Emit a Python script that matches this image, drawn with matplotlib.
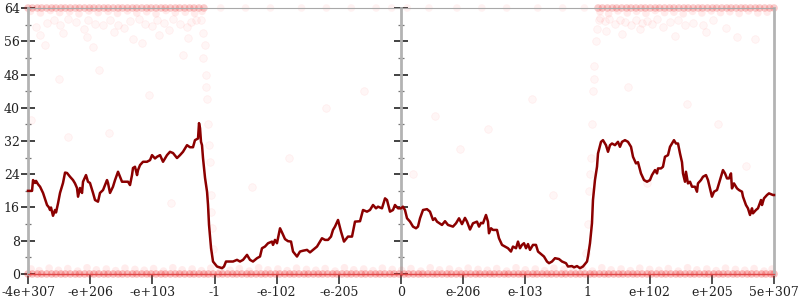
import matplotlib
matplotlib.use("Agg")
import matplotlib.pyplot as plt
from matplotlib.ticker import MultipleLocator, FixedLocator

# ---------------- data ----------------
# x axis is the ordered float space; tick positions are evenly spaced
x_tick_pos = [-6, -5, -4, -3, -2, -1, 0, 1, 2, 3, 4, 5, 6]
x_tick_labels = ["-4e+307", "-e+206", "-e+103", "-1", "-e-102", "-e-205", "0",
                 "e-206", "e-103", "1", "e+102", "e+205", "5e+307"]
y_ticks = [0, 8, 16, 24, 32, 40, 48, 56, 64]

line_x = [-6.0, -5.935, -5.919, -5.887, -5.871, -5.839, -5.806, -5.758, -5.710, -5.694,
          -5.662, -5.646, -5.630, -5.598, -5.565, -5.549, -5.517, -5.485, -5.437, -5.404,
          -5.372, -5.324, -5.276, -5.244, -5.212, -5.195, -5.163, -5.131, -5.115, -5.067,
          -5.035, -5.003, -4.954, -4.922, -4.874, -4.842, -4.793, -4.729, -4.713, -4.681,
          -4.633, -4.600, -4.552, -4.520, -4.488, -4.440, -4.391, -4.359, -4.327, -4.311,
          -4.279, -4.246, -4.230, -4.198, -4.150, -4.086, -4.037, -4.005, -3.957, -3.925,
          -3.876, -3.828, -3.764, -3.716, -3.667, -3.603, -3.555, -3.507, -3.474, -3.442,
          -3.394, -3.346, -3.314, -3.265, -3.249, -3.233, -3.217, -3.201, -3.185, -3.152,
          -3.120, -3.104, -3.088, -3.056, -3.024, -2.960, -2.879, -2.847, -2.815, -2.751,
          -2.702, -2.638, -2.590, -2.541, -2.477, -2.429, -2.381, -2.316, -2.268, -2.236,
          -2.188, -2.139, -2.075, -2.059, -2.027, -1.995, -1.946, -1.914, -1.866, -1.818,
          -1.769, -1.737, -1.673, -1.625, -1.576, -1.512, -1.464, -1.415, -1.351, -1.271,
          -1.222, -1.174, -1.126, -1.094, -1.062, -1.013, -0.965, -0.917, -0.853, -0.788,
          -0.740, -0.659, -0.611, -0.547, -0.499, -0.450, -0.402, -0.370, -0.306, -0.257,
          -0.225, -0.177, -0.129, -0.097, -0.048, 0.0, 0.032, 0.064, 0.097, 0.145,
          0.193, 0.241, 0.273, 0.306, 0.354, 0.418, 0.466, 0.515, 0.547, 0.579,
          0.659, 0.708, 0.756, 0.836, 0.885, 0.933, 0.981, 1.029, 1.062, 1.110,
          1.158, 1.222, 1.255, 1.287, 1.319, 1.367, 1.399, 1.415, 1.448, 1.480,
          1.544, 1.576, 1.625, 1.673, 1.721, 1.769, 1.801, 1.850, 1.882, 1.914,
          1.946, 1.978, 2.011, 2.043, 2.075, 2.123, 2.171, 2.204, 2.268, 2.300,
          2.348, 2.381, 2.429, 2.477, 2.541, 2.590, 2.654, 2.686, 2.750, 2.783,
          2.831, 2.879, 2.927, 2.992, 3.008, 3.040, 3.072, 3.088, 3.120, 3.153,
          3.169, 3.217, 3.249, 3.297, 3.330, 3.362, 3.394, 3.442, 3.490, 3.522,
          3.555, 3.603, 3.651, 3.700, 3.732, 3.780, 3.812, 3.828, 3.860, 3.909,
          3.957, 4.005, 4.037, 4.086, 4.118, 4.134, 4.182, 4.214, 4.246, 4.295,
          4.327, 4.359, 4.391, 4.423, 4.456, 4.488, 4.520, 4.536, 4.568, 4.584,
          4.616, 4.649, 4.681, 4.729, 4.761, 4.777, 4.825, 4.858, 4.906, 4.938,
          4.970, 5.002, 5.035, 5.083, 5.115, 5.147, 5.179, 5.212, 5.244, 5.276,
          5.308, 5.324, 5.356, 5.405, 5.437, 5.485, 5.501, 5.549, 5.581, 5.614,
          5.646, 5.662, 5.710, 5.742, 5.791, 5.807, 5.839, 5.887, 5.919, 5.984, 6.0]
line_y = [20.0, 20.0, 22.6, 21.9, 22.4, 21.6, 21.0, 19.5, 17.3, 16.6,
          16.0, 15.4, 16.0, 14.0, 15.4, 14.8, 17.0, 19.5, 21.9, 24.4,
          24.3, 23.4, 22.6, 21.8, 20.7, 18.6, 20.7, 19.5, 22.2, 23.8,
          22.2, 21.9, 19.5, 17.8, 17.4, 19.5, 20.2, 22.6, 21.9, 19.5,
          21.0, 22.6, 24.6, 23.4, 22.2, 22.2, 22.2, 21.4, 23.8, 25.5,
          25.8, 23.8, 25.0, 26.2, 27.0, 27.0, 27.4, 28.6, 27.8, 28.2,
          28.6, 27.0, 28.6, 29.4, 29.1, 27.9, 28.6, 29.4, 30.2, 31.0,
          30.5, 30.5, 32.2, 32.6, 36.3, 35.1, 31.8, 31.0, 27.9, 23.1,
          19.8, 16.6, 11.8, 6.3, 3.0, 1.8, 1.4, 1.8, 3.0, 3.0,
          3.0, 3.4, 3.0, 3.4, 4.6, 3.4, 3.0, 3.8, 4.2, 6.2,
          6.6, 7.4, 7.8, 7.0, 8.2, 7.4, 11.0, 10.0, 8.4, 7.9,
          7.8, 5.4, 4.2, 5.4, 5.6, 5.8, 5.2, 5.8, 6.6, 8.6,
          8.2, 8.2, 9.0, 10.6, 11.4, 13.0, 10.2, 7.8, 9.0, 9.0,
          12.6, 12.7, 15.4, 15.0, 15.4, 16.6, 15.8, 16.2, 15.8, 18.2,
          17.8, 15.0, 15.4, 16.6, 15.8, 15.8, 16.2, 15.4, 13.4, 12.6,
          11.4, 11.0, 11.4, 13.4, 15.4, 15.6, 15.0, 13.0, 13.4, 12.6,
          11.8, 12.7, 11.8, 11.4, 12.2, 13.4, 12.0, 13.5, 12.6, 10.7,
          12.2, 12.6, 11.4, 12.3, 12.2, 14.2, 12.6, 9.8, 11.0, 10.6,
          10.6, 8.6, 7.0, 6.6, 6.2, 5.4, 6.6, 6.2, 7.8, 6.2,
          7.0, 7.4, 6.2, 7.2, 5.8, 7.0, 7.0, 5.4, 4.6, 4.2,
          3.0, 2.6, 3.0, 3.8, 3.6, 3.0, 2.6, 1.8, 1.9, 1.6,
          1.9, 1.4, 1.8, 3.0, 4.2, 7.4, 12.2, 17.8, 22.6, 25.8,
          29.0, 31.8, 32.2, 31.0, 29.4, 31.0, 31.4, 31.0, 31.8, 30.6,
          31.8, 32.2, 31.8, 30.6, 28.2, 26.6, 26.9, 26.0, 24.2, 22.6,
          22.2, 22.6, 23.8, 25.0, 24.2, 25.4, 25.4, 25.8, 28.2, 28.6,
          30.6, 31.4, 32.2, 31.4, 31.4, 29.0, 26.9, 24.2, 22.2, 24.6,
          21.8, 22.2, 21.0, 21.0, 19.8, 21.8, 22.6, 23.4, 23.8, 22.6,
          20.6, 18.6, 19.8, 20.2, 21.8, 23.4, 25.0, 24.2, 23.0, 23.0,
          24.2, 20.6, 21.8, 20.6, 20.2, 19.8, 18.6, 16.6, 15.8, 14.2,
          15.8, 14.6, 15.4, 15.8, 17.8, 16.6, 18.2, 19.0, 19.4, 19.0, 19.0]

# dense row of samples at y = 0
row0_x = [-6.0, -5.93, -5.85, -5.78, -5.70, -5.62, -5.55, -5.47, -5.40, -5.32,
          -5.24, -5.17, -5.09, -5.01, -4.94, -4.86, -4.78, -4.71, -4.63, -4.55,
          -4.48, -4.40, -4.32, -4.25, -4.17, -4.09, -4.02, -3.94, -3.86, -3.79,
          -3.71, -3.63, -3.56, -3.48, -3.40, -3.33, -3.25, -3.17, -3.10, -3.02,
          -2.94, -2.87, -2.79, -2.71, -2.64, -2.56, -2.48, -2.41, -2.33, -2.25,
          -2.18, -2.10, -2.02, -1.95, -1.87, -1.79, -1.72, -1.64, -1.56, -1.49,
          -1.41, -1.33, -1.26, -1.18, -1.10, -1.03, -0.95, -0.87, -0.80, -0.72,
          -0.64, -0.57, -0.49, -0.41, -0.34, -0.26, -0.18, -0.11, -0.03, 0.05,
          0.12, 0.20, 0.28, 0.35, 0.43, 0.51, 0.58, 0.66, 0.74, 0.81,
          0.89, 0.97, 1.04, 1.12, 1.20, 1.27, 1.35, 1.43, 1.50, 1.58,
          1.66, 1.73, 1.81, 1.89, 1.96, 2.04, 2.12, 2.19, 2.27, 2.35,
          2.42, 2.50, 2.58, 2.65, 2.73, 2.81, 2.88, 2.96, 3.04, 3.11,
          3.19, 3.27, 3.34, 3.42, 3.50, 3.57, 3.65, 3.73, 3.80, 3.88,
          3.96, 4.03, 4.11, 4.19, 4.26, 4.34, 4.42, 4.49, 4.57, 4.65,
          4.72, 4.80, 4.88, 4.95, 5.03, 5.11, 5.18, 5.26, 5.34, 5.41,
          5.49, 5.57, 5.64, 5.72, 5.80, 5.87, 5.95, 6.0]

# lighter layer just above the bottom row
low_x = [-5.95, -5.82, -5.66, -5.51, -5.36, -5.20, -5.05, -4.90, -4.74, -4.59,
         -4.44, -4.28, -4.13, -3.98, -3.82, -3.67, -3.52, -3.36, -3.21, -3.06,
         -2.90, -2.75, -2.60, -2.44, -2.29, -2.14, -1.98, -1.83, -1.68, -1.52,
         -1.37, -1.22, -1.06, -0.91, -0.76, -0.60, -0.45, -0.30, -0.14, 0.01,
         0.16, 0.32, 0.47, 0.62, 0.78, 0.93, 1.08, 1.24, 1.39, 1.54,
         1.70, 1.85, 2.00, 2.16, 2.31, 2.46, 2.62, 2.77, 2.92, 3.08,
         3.23, 3.38, 3.54, 3.69, 3.84, 4.00, 4.15, 4.30, 4.46, 4.61,
         4.76, 4.92, 5.07, 5.22, 5.38, 5.53, 5.68, 5.84, 5.97]
low_y = [1.2, 0.8, 1.4, 0.9, 1.3, 0.7, 1.5, 1.0, 1.2, 0.8,
         1.4, 1.1, 0.9, 1.3, 0.7, 1.5, 1.0, 1.2, 0.8, 1.4,
         1.1, 0.9, 1.3, 0.7, 1.5, 1.0, 1.2, 0.8, 1.4, 1.1,
         0.9, 1.3, 0.7, 1.5, 1.0, 1.2, 0.8, 1.4, 1.1, 0.9,
         1.3, 0.7, 1.5, 1.0, 1.2, 0.8, 1.4, 1.1, 0.9, 1.3,
         0.7, 1.5, 1.0, 1.2, 0.8, 1.4, 1.1, 0.9, 1.3, 0.7,
         1.5, 1.0, 1.2, 0.8, 1.4, 1.1, 0.9, 1.3, 0.7, 1.5,
         1.0, 1.2, 0.8, 1.4, 1.1, 0.9, 1.3, 0.7, 1.2]

# top row (y = 64) in the outer regions
top_x = [-6.0, -5.93, -5.85, -5.78, -5.70, -5.62, -5.55, -5.47, -5.40, -5.32,
         -5.24, -5.17, -5.09, -5.01, -4.94, -4.86, -4.78, -4.71, -4.63, -4.55,
         -4.48, -4.40, -4.32, -4.25, -4.17, -4.09, -4.02, -3.94, -3.86, -3.79,
         -3.71, -3.63, -3.56, -3.48, -3.40, -3.33, -3.25, -3.17,
         3.17, 3.24, 3.32, 3.40, 3.47, 3.55, 3.63, 3.70, 3.78, 3.86,
         3.93, 4.01, 4.09, 4.16, 4.24, 4.32, 4.39, 4.47, 4.55, 4.62,
         4.70, 4.78, 4.85, 4.93, 5.01, 5.08, 5.16, 5.24, 5.31, 5.39,
         5.47, 5.54, 5.62, 5.70, 5.77, 5.85, 5.93, 6.0]
# second layer just below the top row
top2_x = [-5.96, -5.80, -5.64, -5.49, -5.33, -5.18, -5.02, -4.87, -4.71, -4.56,
          -4.40, -4.25, -4.09, -3.94, -3.78, -3.63, -3.47, -3.32, -3.20,
          3.20, 3.34, 3.49, 3.64, 3.79, 3.94, 4.09, 4.24, 4.39, 4.54,
          4.69, 4.84, 4.99, 5.14, 5.29, 5.44, 5.59, 5.74, 5.89]
top2_y = [63.2, 62.8, 63.4, 62.9, 63.1, 62.6, 63.3, 62.9, 63.2, 62.7,
          63.3, 62.8, 63.1, 62.6, 63.4, 62.9, 63.0, 62.7, 63.2,
          63.1, 62.6, 63.3, 62.8, 63.2, 62.7, 63.4, 62.9, 63.0, 62.6,
          63.2, 62.8, 63.3, 62.9, 63.1, 62.7, 63.3, 62.8, 63.0]
# faint samples at the top of the middle region
midtop_x = [-2.9, -2.5, -2.1, -1.6, -1.2, -0.8, -0.4, -0.15, 0.1, 0.45, 0.9,
            1.3, 1.7, 2.2, 2.6, 2.95]
# scattered samples
scat_x = [-5.87, -5.70, -5.58, -5.49, -5.35, -5.22, -5.10, -5.03, -4.93, -4.80,
          -4.68, -4.55, -4.46, -4.36, -4.22, -4.11, -4.00, -3.92, -3.82, -3.73,
          -3.66, -3.55, -3.45, -3.38, -3.30, -5.80, -5.44, -5.05, -4.62, -4.31,
          -3.90, -3.42, -5.72, -4.95, -4.17, -3.50,
          -3.22, -3.19, -3.16, -3.14, -3.12, -3.10, -3.08, -3.06, -3.04, -3.02,
          -3.18, -3.13, -3.09, -3.05,
          2.98, 3.01, 3.03, 3.05, 3.07, 3.09, 3.11, 3.13, 3.15, 3.18, 3.04, 3.10,
          3.20, 3.28, 3.35, 3.44, 3.52, 3.60, 3.70, 3.78, 3.87, 3.95,
          4.04, 4.12, 4.22, 4.33, 4.45, 4.57, 4.70, 4.85, 5.02, 5.22,
          3.30, 3.55, 3.84, 4.40, 4.90, 5.40, 5.70,
          -5.50, -4.85, -4.05, -1.20, -0.60, 0.55, 1.40, 2.10, 3.65, 4.60, 5.10,
          -5.95, -5.35, -4.70, -3.70, -2.40, -1.80, 0.20, 0.95, 2.45, 3.95, 5.55]
scat_y = [59.5, 60.5, 61.0, 60.0, 61.3, 60.6, 59.0, 61.0, 60.2, 59.8,
          61.2, 60.0, 59.2, 60.8, 61.3, 60.1, 59.6, 61.0, 60.4, 58.7,
          61.4, 60.1, 59.4, 60.7, 61.2, 57.5, 58.0, 57.0, 58.2, 56.5,
          57.6, 56.8, 55.0, 54.6, 55.7, 52.8,
          61.0, 58.0, 55.0, 48.0, 42.0, 36.0, 27.0, 19.0, 11.0, 6.0,
          52.0, 45.0, 31.0, 15.0,
          5.0, 12.0, 20.0, 28.0, 36.0, 44.0, 50.0, 56.0, 59.0, 61.0, 24.0, 47.0,
          61.5, 60.8, 61.3, 60.2, 61.1, 60.6, 59.8, 61.2, 60.3, 60.9,
          60.1, 61.4, 59.5, 60.7, 61.0, 59.9, 60.5, 60.0, 61.2, 59.3,
          58.5, 57.8, 58.9, 57.3, 58.2, 57.0, 56.6,
          47.0, 49.0, 43.0, 40.0, 44.0, 38.0, 35.0, 42.0, 45.0, 41.0, 36.0,
          37.0, 33.0, 34.0, 17.0, 21.0, 28.0, 24.0, 30.0, 19.0, 22.0, 26.0]

# ---------------- figure ----------------
fig = plt.figure(figsize=(8, 3), dpi=100)
ax = fig.add_axes([0.035, 0.0867, 0.9325, 0.8866])
ax.set_xlim(-6, 6)
ax.set_ylim(0, 64)

ms = 30

ax.scatter(row0_x, [0] * len(row0_x), s=ms, facecolor=(0.92, 0.1, 0.1, 0.28),
           edgecolor="none", clip_on=False, zorder=2)
ax.scatter(low_x, low_y, s=ms, facecolor=(1, 0.3, 0.3, 0.10),
           edgecolor="none", clip_on=False, zorder=2)
ax.scatter(top_x, [64] * len(top_x), s=ms, facecolor=(0.92, 0.1, 0.1, 0.22),
           edgecolor="none", clip_on=False, zorder=2)
ax.scatter(top2_x, top2_y, s=ms, facecolor=(1, 0.3, 0.3, 0.10),
           edgecolor="none", clip_on=False, zorder=2)
ax.scatter(midtop_x, [64] * len(midtop_x), s=ms, facecolor=(1, 0.3, 0.3, 0.07),
           edgecolor="none", clip_on=False, zorder=2)
ax.scatter(scat_x, scat_y, s=ms, facecolor=(1, 0.35, 0.35, 0.05),
           edgecolor=(1, 0.35, 0.35, 0.07), lw=0.6, clip_on=False, zorder=2)

ax.plot(line_x, line_y, color="#8b0000", lw=1.8, zorder=4, clip_on=False)

# spines
for side in ("left", "right"):
    ax.spines[side].set_color("#b3b3b3")
    ax.spines[side].set_linewidth(2)
ax.spines["top"].set_color("#a8a8a8")
ax.spines["top"].set_linewidth(0.8)
ax.spines["bottom"].set_color("#e04848")
ax.spines["bottom"].set_linewidth(1.0)

ax.xaxis.set_major_locator(FixedLocator(x_tick_pos))
ax.set_xticklabels(x_tick_labels)
ax.yaxis.set_major_locator(FixedLocator(y_ticks))
ax.yaxis.set_minor_locator(MultipleLocator(4))
ax.tick_params(axis="x", direction="out", length=7, width=1.2, color="#333333",
               labelsize=9, pad=2)
ax.tick_params(axis="y", which="major", direction="inout", length=10, width=1.2,
               color="#222222", left=True, right=True, labelsize=9, pad=1)
ax.tick_params(axis="y", which="minor", direction="inout", length=5, width=0.9,
               color="#777777", left=True, right=True)
for lab in ax.get_xticklabels() + ax.get_yticklabels():
    lab.set_fontfamily("DejaVu Serif")
    lab.set_color("#222222")

# centre axis at x = 0
ax2 = ax.twinx()
ax2.set_ylim(0, 64)
for side in ("left", "top", "bottom"):
    ax2.spines[side].set_visible(False)
ax2.spines["right"].set_position(("data", 0))
ax2.spines["right"].set_color("#b3b3b3")
ax2.spines["right"].set_linewidth(2)
ax2.yaxis.set_major_locator(FixedLocator(y_ticks))
ax2.yaxis.set_minor_locator(MultipleLocator(4))
ax2.tick_params(axis="y", which="major", direction="inout", length=10, width=1.2,
                color="#222222", labelright=False)
ax2.tick_params(axis="y", which="minor", direction="inout", length=5, width=0.9,
                color="#777777")
ax2.set_zorder(ax.get_zorder() - 1)
ax.patch.set_visible(False)

fig.savefig("out.png", dpi=100)
